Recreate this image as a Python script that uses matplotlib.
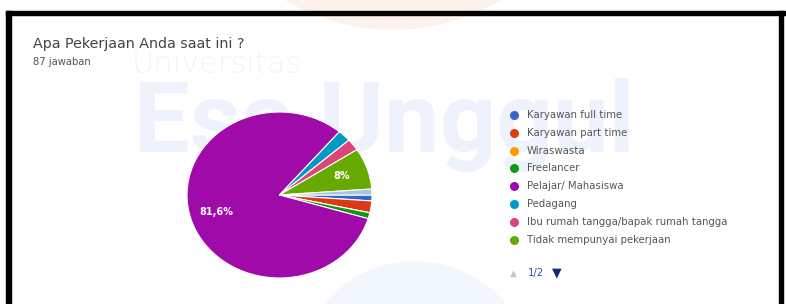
import matplotlib
matplotlib.use("Agg")
import matplotlib.pyplot as plt
from matplotlib.patches import Circle, Rectangle

plt.rcParams['font.family'] = ['DejaVu Sans']

# ---- data ----
title = "Apa Pekerjaan Anda saat ini ?"
subtitle = "87 jawaban"
categories = ["Karyawan full time", "Karyawan part time", "Wiraswasta", "Freelancer",
              "Pelajar/ Mahasiswa", "Pedagang", "Ibu rumah tangga/bapak rumah tangga",
              "Tidak mempunyai pekerjaan", "Lainnya"]
counts = [1, 2, 0, 1, 71, 2, 2, 7, 1]
colors = ["#3366cc", "#dc3912", "#ff9900", "#109618", "#a00aa8", "#0099c6",
          "#dd4477", "#66aa00", "#a8c4e0"]
legend_count = 8          # legend page 1 shows 8 entries
pager_text = "1/2"

W, H = 786, 304
fig = plt.figure(figsize=(W / 100, H / 100), dpi=100)
fig.patch.set_facecolor("white")

# background axes in pixel coordinates
bg = fig.add_axes([0, 0, 1, 1])
bg.set_xlim(0, W)
bg.set_ylim(H, 0)
bg.axis("off")

# faint decorative watermark shapes
bg.add_patch(Circle((393, -182), 211, color="#fdf1ec", zorder=0))
bg.add_patch(Circle((415, 380), 118, color="#f2f6fd", zorder=0))
bg.text(132, 73, "Universitas", fontsize=22, color="#f0f4fc", fontweight="light",
        va="baseline", ha="left", zorder=1)
bg.text(134, 152, "Esa Unggul", fontsize=71.5, color="#edf2fc", fontweight="bold",
        family="Roboto", va="baseline", ha="left", zorder=1)

# frame
bg.add_patch(Rectangle((6, 10.5), W - 6, 4, color="black", zorder=5))
bg.add_patch(Rectangle((6, 10.5), 4.5, H, color="black", zorder=5))
bg.add_patch(Rectangle((779, 10.5), 4, H, color="black", zorder=5))

# titles
bg.text(33, 48, title, fontsize=10.3, color="#444444", va="baseline", ha="left", zorder=3)
bg.text(33, 65, subtitle, fontsize=7.2, color="#555555", va="baseline", ha="left", zorder=3)

# pie
cx, cy, rx, ry = 279.5, 195, 92.5, 83
ax = fig.add_axes([(cx - rx) / W, 1 - (cy + ry) / H, 2 * rx / W, 2 * ry / H])


def fmt(p):
    if p < 5:
        return ""
    s = f"{p:.1f}".rstrip("0").rstrip(".")
    return s.replace(".", ",") + "%"


wedges, texts, autotexts = ax.pie(counts, colors=colors, startangle=0, counterclock=False,
                                  autopct=fmt, pctdistance=0.71,
                                  wedgeprops=dict(edgecolor="white", linewidth=0.8),
                                  textprops=dict(color="white", fontsize=7, fontweight="bold"))
ax.set_aspect("auto")
ax.set_xlim(-1.0, 1.0)
ax.set_ylim(-1.0, 1.0)
ax.patch.set_alpha(0)

# legend (page 1)
lx, ly0, dy = 514, 115, 17.8
for i in range(legend_count):
    y = ly0 + i * dy
    bg.scatter([lx], [y], s=42, color=colors[i], zorder=4, linewidths=0)
    bg.text(527, y, categories[i], fontsize=7.3, color="#555555", va="center", ha="left", zorder=4)

# pager
py = 273
bg.text(513, py, "\u25B2", fontsize=6.5, color="#c8c8c8", va="center", ha="center", zorder=4)
bg.text(528, py, pager_text, fontsize=7.3, color="#3c4ba8", va="center", ha="left", zorder=4)
bg.text(557, py, "\u25BC", fontsize=9, color="#1a237e", va="center", ha="center", zorder=4)

fig.savefig("out.png", dpi=100, facecolor="white")
